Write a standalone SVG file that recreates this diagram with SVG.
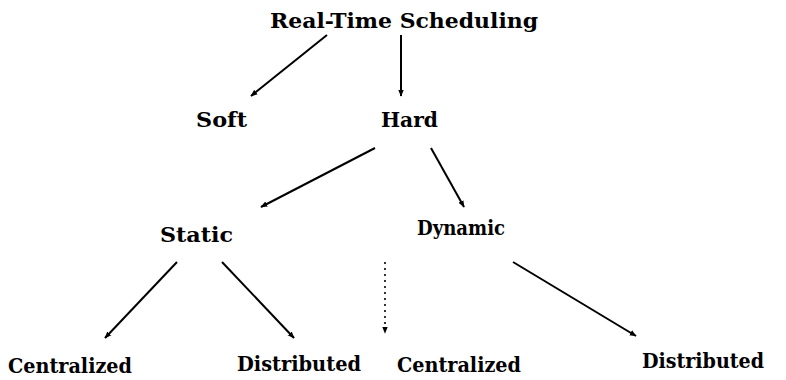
<svg xmlns="http://www.w3.org/2000/svg" width="786" height="380" viewBox="0 0 786 380">
<style>
text{font-family:"DejaVu Serif","Liberation Serif",serif;font-weight:bold;font-size:20px;fill:#000}
.c{stroke:#000;stroke-width:2;fill:none}
.d{stroke-dasharray:2 4;stroke-width:1.6}
</style>
<defs>
<marker id="ah" viewBox="0 0 10 10" refX="9" refY="5" markerWidth="7" markerHeight="7" orient="auto" markerUnits="userSpaceOnUse">
<path d="M0,1 L10,5 L0,9 z" fill="#000"/>
</marker>
</defs>
<rect width="786" height="380" fill="#fff"/>
<g id="connectors">
<line class="c" x1="327" y1="35" x2="251" y2="96" marker-end="url(#ah)"/>
<line class="c" x1="401" y1="35" x2="401" y2="96" marker-end="url(#ah)"/>
<line class="c" x1="375" y1="148" x2="261" y2="207" marker-end="url(#ah)"/>
<line class="c" x1="431" y1="148" x2="464" y2="207" marker-end="url(#ah)"/>
<line class="c" x1="177" y1="262" x2="105" y2="338" marker-end="url(#ah)"/>
<line class="c" x1="222" y1="262" x2="294" y2="338" marker-end="url(#ah)"/>
<line class="c d" x1="385" y1="262" x2="385" y2="333" marker-end="url(#ah)"/>
<line class="c" x1="513" y1="262" x2="636" y2="336" marker-end="url(#ah)"/>
</g>
<g id="root"><text x="270" y="28" textLength="268" lengthAdjust="spacingAndGlyphs">Real-Time Scheduling</text></g>
<g id="soft"><text x="196" y="127" textLength="51" lengthAdjust="spacingAndGlyphs">Soft</text></g>
<g id="hard"><text x="381" y="127" textLength="57" lengthAdjust="spacingAndGlyphs">Hard</text></g>
<g id="static"><text x="160" y="242" textLength="73" lengthAdjust="spacingAndGlyphs">Static</text></g>
<g id="dynamic"><text x="417" y="235" textLength="88" lengthAdjust="spacingAndGlyphs">Dynamic</text></g>
<g id="static-centralized"><text x="8" y="373" textLength="124" lengthAdjust="spacingAndGlyphs">Centralized</text></g>
<g id="static-distributed"><text x="237" y="371" textLength="124" lengthAdjust="spacingAndGlyphs">Distributed</text></g>
<g id="dynamic-centralized"><text x="397" y="372" textLength="124" lengthAdjust="spacingAndGlyphs">Centralized</text></g>
<g id="dynamic-distributed"><text x="642" y="368" textLength="122" lengthAdjust="spacingAndGlyphs">Distributed</text></g>
</svg>
